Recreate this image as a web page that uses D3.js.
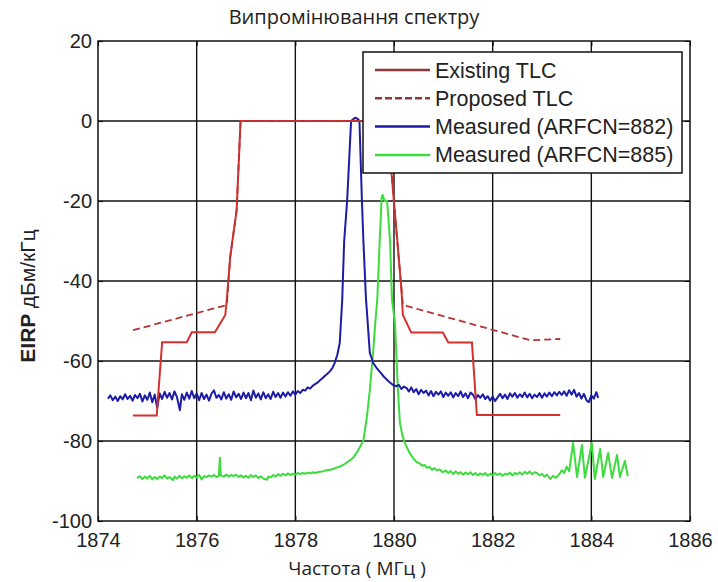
<!DOCTYPE html>
<html>
<head>
  <meta charset="utf-8">
  <style>
body { margin: 0; background: #fff; }
svg { font-family: "Liberation Sans", Arial, sans-serif; }
.tick text { font-size: 20px; fill: #222; }
  </style>
</head>
<body>
  <svg id="chart" width="718" height="582"></svg>
  <script src="https://cdn.jsdelivr.net/npm/d3@7"></script>
  <script>
// Tick labels
var xTicks = [1874, 1876, 1878, 1880, 1882, 1884, 1886];
var yTicks = [20, 0, -20, -40, -60, -80, -100];

var seriesNames = ["Existing TLC", "Proposed TLC", "Measured (ARFCN=882)", "Measured (ARFCN=885)"];

// Existing TLC mask [MHz, dBm/kHz]
var existingTLC = [
  [1874.71, -73.6], [1875.19, -73.6], [1875.30, -55.3], [1875.80, -55.3],
  [1875.90, -52.8], [1876.37, -52.8], [1876.58, -48.5], [1876.61, -44.8],
  [1876.68, -34], [1876.81, -22.3], [1876.89, 0], [1879.86, 0],
  [1880.15, -42], [1880.18, -48.5], [1880.35, -52.9], [1880.99, -52.9],
  [1881.10, -55.4], [1881.58, -55.4], [1881.68, -73.5], [1883.37, -73.5]
];

// Proposed TLC mask
var proposedTLC = [
  [1874.71, -52.3], [1876.61, -46], [1876.68, -34], [1876.81, -22.3],
  [1876.89, 0], [1879.86, 0], [1880.15, -42], [1880.18, -46],
  [1882.76, -54.8], [1883.37, -54.5]
];

// Measured, ARFCN=882
var measured882 = [
  [1874.20, -69.4], [1874.25, -68.6], [1874.30, -69.8], [1874.35, -68.9], [1874.40, -70.0],
  [1874.45, -68.8], [1874.50, -69.6], [1874.55, -68.3], [1874.60, -69.5], [1874.65, -68.7],
  [1874.70, -69.9], [1874.75, -68.5], [1874.80, -69.3], [1874.85, -68.2], [1874.90, -70.1],
  [1874.95, -68.6], [1875.00, -69.7], [1875.05, -67.9], [1875.10, -70.3], [1875.15, -68.4],
  [1875.20, -71.7], [1875.25, -68.1], [1875.30, -69.5], [1875.35, -67.7], [1875.40, -69.2],
  [1875.45, -68.0], [1875.50, -69.6], [1875.55, -67.6], [1875.60, -69.0], [1875.66, -72.3],
  [1875.70, -68.3], [1875.75, -69.7], [1875.80, -67.9], [1875.85, -69.4], [1875.90, -67.5],
  [1875.95, -69.3], [1876.00, -68.1], [1876.05, -69.8], [1876.10, -68.0], [1876.15, -69.5],
  [1876.20, -68.4], [1876.25, -69.9], [1876.30, -68.2], [1876.35, -67.3], [1876.40, -69.2],
  [1876.45, -68.5], [1876.50, -69.6], [1876.55, -67.8], [1876.60, -69.4], [1876.65, -68.3],
  [1876.70, -69.7], [1876.75, -67.6], [1876.80, -69.1], [1876.85, -68.2], [1876.90, -69.5],
  [1876.95, -67.9], [1877.00, -69.3], [1877.05, -68.0], [1877.10, -69.8], [1877.15, -67.4],
  [1877.20, -69.2], [1877.25, -68.1], [1877.30, -69.6], [1877.35, -67.8], [1877.40, -69.3],
  [1877.45, -68.3], [1877.50, -69.5], [1877.55, -67.7], [1877.60, -69.0], [1877.65, -68.0],
  [1877.70, -69.2], [1877.75, -67.9], [1877.80, -68.9], [1877.85, -67.8], [1877.90, -68.7],
  [1877.95, -67.6], [1878.00, -68.4], [1878.05, -67.5], [1878.10, -68.0], [1878.15, -67.2],
  [1878.20, -67.4], [1878.25, -66.6], [1878.30, -66.9], [1878.35, -66.2], [1878.40, -65.8],
  [1878.45, -65.4], [1878.50, -64.8], [1878.55, -64.3], [1878.60, -63.7], [1878.65, -63.2],
  [1878.70, -62.6], [1878.75, -61.8], [1878.80, -60.4], [1878.85, -58.5], [1878.90, -55.5],
  [1878.95, -44.8], [1878.99, -30], [1879.05, -20], [1879.13, 0], [1879.21, 0.8],
  [1879.27, 0.5], [1879.30, 0], [1879.35, -20], [1879.38, -30], [1879.43, -44],
  [1879.51, -58], [1879.58, -60.5], [1879.65, -61.8], [1879.72, -62.8], [1879.80, -64.0],
  [1879.90, -65.2], [1879.98, -66.0], [1880.05, -66.3], [1880.10, -66.0], [1880.15, -67.0],
  [1880.20, -66.4], [1880.26, -66.8], [1880.30, -67.6], [1880.35, -66.6], [1880.40, -67.8],
  [1880.45, -67.0], [1880.50, -68.3], [1880.55, -67.2], [1880.60, -68.0], [1880.65, -67.4],
  [1880.70, -68.6], [1880.75, -67.5], [1880.80, -68.8], [1880.85, -67.7], [1880.90, -68.4],
  [1880.95, -67.6], [1881.00, -69.0], [1881.05, -67.9], [1881.10, -68.7], [1881.15, -67.8],
  [1881.20, -69.1], [1881.25, -68.0], [1881.30, -68.8], [1881.35, -67.6], [1881.40, -69.0],
  [1881.45, -68.1], [1881.50, -69.3], [1881.55, -67.9], [1881.60, -68.4], [1881.65, -69.6],
  [1881.70, -68.5], [1881.75, -69.2], [1881.80, -68.3], [1881.85, -69.5], [1881.90, -68.8],
  [1881.95, -69.9], [1882.00, -68.9], [1882.05, -70.0], [1882.10, -69.1], [1882.15, -68.2],
  [1882.20, -69.3], [1882.25, -68.4], [1882.30, -69.5], [1882.35, -68.1], [1882.40, -68.9],
  [1882.45, -68.0], [1882.50, -69.2], [1882.55, -68.3], [1882.60, -69.0], [1882.65, -67.9],
  [1882.70, -69.1], [1882.75, -68.2], [1882.80, -69.3], [1882.85, -68.4], [1882.90, -69.0],
  [1882.95, -68.0], [1883.00, -69.2], [1883.05, -68.1], [1883.10, -68.9], [1883.15, -67.9],
  [1883.20, -68.8], [1883.25, -67.8], [1883.30, -68.6], [1883.35, -67.7], [1883.40, -68.5],
  [1883.45, -67.6], [1883.50, -68.7], [1883.55, -67.3], [1883.60, -68.4], [1883.65, -67.2],
  [1883.70, -68.9], [1883.75, -68.0], [1883.80, -69.4], [1883.85, -68.2], [1883.90, -69.8],
  [1883.95, -70.3], [1884.00, -68.6], [1884.05, -69.4], [1884.10, -67.8], [1884.14, -69.2]
];

// Measured, ARFCN=885
var measured885 = [
  [1874.79, -89.3], [1874.85, -88.8], [1874.90, -89.5], [1874.95, -88.9], [1875.00, -89.4],
  [1875.05, -88.7], [1875.10, -89.6], [1875.15, -89.0], [1875.20, -89.5], [1875.25, -88.9],
  [1875.30, -89.3], [1875.35, -88.6], [1875.40, -89.4], [1875.45, -89.0], [1875.52, -89.8],
  [1875.55, -88.9], [1875.60, -89.4], [1875.65, -88.7], [1875.70, -89.3], [1875.75, -88.8],
  [1875.80, -89.2], [1875.85, -88.6], [1875.90, -89.3], [1875.95, -88.7], [1876.00, -89.1],
  [1876.05, -88.5], [1876.10, -89.6], [1876.15, -88.8], [1876.20, -89.0], [1876.25, -88.6],
  [1876.30, -88.9], [1876.35, -88.5], [1876.40, -89.0], [1876.45, -88.7], [1876.47, -84.2],
  [1876.49, -88.6], [1876.55, -88.9], [1876.60, -88.4], [1876.65, -88.9], [1876.70, -88.5],
  [1876.75, -88.8], [1876.80, -88.4], [1876.85, -89.0], [1876.90, -88.6], [1876.95, -89.1],
  [1877.00, -88.7], [1877.05, -89.2], [1877.10, -88.5], [1877.15, -89.0], [1877.20, -88.6],
  [1877.25, -89.3], [1877.30, -88.8], [1877.35, -89.4], [1877.43, -89.7], [1877.45, -88.9],
  [1877.50, -89.1], [1877.55, -88.5], [1877.60, -88.9], [1877.65, -88.3], [1877.70, -88.7],
  [1877.75, -88.2], [1877.80, -88.6], [1877.85, -88.1], [1877.90, -88.5], [1877.95, -88.2],
  [1878.00, -88.4], [1878.05, -88.0], [1878.10, -88.3], [1878.15, -88.0], [1878.20, -88.2],
  [1878.25, -87.9], [1878.30, -88.1], [1878.35, -87.8], [1878.40, -88.0], [1878.45, -87.8],
  [1878.50, -87.7], [1878.55, -87.6], [1878.60, -87.4], [1878.65, -87.3], [1878.70, -87.2],
  [1878.77, -87.0], [1878.85, -86.6], [1878.92, -86.3], [1878.97, -86.0], [1879.05, -85.3],
  [1879.11, -84.8], [1879.17, -84.2], [1879.25, -82.8], [1879.31, -81.5], [1879.38, -79.8],
  [1879.45, -74], [1879.51, -67.3], [1879.58, -57.3], [1879.62, -50.5], [1879.66, -44.8],
  [1879.71, -30], [1879.75, -19], [1879.77, -18.5], [1879.81, -20], [1879.86, -20],
  [1879.92, -30], [1879.96, -44.8], [1880.02, -50.5], [1880.08, -67.3], [1880.12, -75.5],
  [1880.17, -78.6], [1880.22, -80.5], [1880.30, -82.6], [1880.38, -84.2], [1880.46, -85.3],
  [1880.52, -85.6], [1880.57, -86.2], [1880.62, -86.0], [1880.67, -86.7], [1880.72, -86.5],
  [1880.77, -87.2], [1880.82, -86.8], [1880.87, -87.4], [1880.92, -87.1], [1880.99, -87.8],
  [1881.05, -87.4], [1881.10, -88.0], [1881.15, -87.5], [1881.20, -88.3], [1881.25, -87.6],
  [1881.30, -88.2], [1881.35, -87.8], [1881.40, -88.4], [1881.45, -87.9], [1881.50, -88.3],
  [1881.55, -87.8], [1881.60, -88.5], [1881.65, -88.0], [1881.70, -88.6], [1881.75, -88.1],
  [1881.80, -88.5], [1881.85, -88.0], [1881.90, -88.7], [1881.95, -88.2], [1882.00, -88.6],
  [1882.05, -88.0], [1882.10, -88.5], [1882.15, -88.1], [1882.20, -88.7], [1882.25, -88.2],
  [1882.30, -88.4], [1882.35, -87.9], [1882.40, -88.6], [1882.45, -88.0], [1882.50, -88.3],
  [1882.55, -87.8], [1882.60, -88.4], [1882.65, -87.7], [1882.70, -88.2], [1882.75, -87.6],
  [1882.80, -88.3], [1882.85, -87.8], [1882.90, -88.0], [1882.95, -88.6], [1883.00, -88.2],
  [1883.05, -88.9], [1883.10, -88.4], [1883.17, -89.5], [1883.22, -88.7], [1883.27, -89.2],
  [1883.30, -89.0], [1883.35, -88.3], [1883.40, -87.3], [1883.45, -88.0], [1883.50, -86.4],
  [1883.55, -87.6], [1883.63, -80.5], [1883.71, -89.0], [1883.81, -81.0], [1883.87, -89.2],
  [1884.01, -80.5], [1884.07, -89.5], [1884.18, -82.0], [1884.24, -89.0], [1884.34, -83.0],
  [1884.42, -89.2], [1884.52, -83.5], [1884.58, -89.0], [1884.68, -85.0], [1884.74, -88.8]
];

var svg = d3.select("#chart"),
    margin = {top: 41, right: 28, bottom: 61, left: 98},
    width = +svg.attr("width") - margin.left - margin.right,
    height = +svg.attr("height") - margin.top - margin.bottom;

var x = d3.scaleLinear().domain([1874, 1886]).range([0, width]);
var y = d3.scaleLinear().domain([-100, 20]).range([height, 0]);

// plain hyphen for negative labels, like the original
var plain = function(d) { return String(d); };

var g = svg.append("g")
    .attr("transform", "translate(" + margin.left + "," + margin.top + ")");

// Grid
g.append("g")
  .selectAll("line")
  .data(xTicks.slice(1, -1))
  .enter().append("line")
    .attr("x1", function(d) { return x(d); })
    .attr("x2", function(d) { return x(d); })
    .attr("y1", 0)
    .attr("y2", height)
    .attr("stroke", "#111")
    .attr("stroke-width", 1.4);

g.append("g")
  .selectAll("line")
  .data(yTicks.slice(1, -1))
  .enter().append("line")
    .attr("x1", 0)
    .attr("x2", width)
    .attr("y1", function(d) { return y(d); })
    .attr("y2", function(d) { return y(d); })
    .attr("stroke", "#111")
    .attr("stroke-width", 1.4);

// Axes
var xAxis = g.append("g")
    .attr("class", "x axis")
    .attr("transform", "translate(0," + height + ")")
    .call(d3.axisBottom(x).tickValues(xTicks).tickFormat(plain).tickSize(-5).tickPadding(12));

var yAxis = g.append("g")
    .attr("class", "y axis")
    .call(d3.axisLeft(y).tickValues(yTicks).tickFormat(plain).tickSize(-5).tickPadding(6));

[xAxis, yAxis].forEach(function(a) {
  a.select(".domain").remove();
  a.selectAll(".tick line").attr("stroke", "#111").attr("stroke-width", 1.2);
});

// Top / right ticks
g.append("g")
  .call(d3.axisTop(x).tickValues(xTicks).tickSize(-5).tickFormat(""))
  .call(function(a) { a.select(".domain").remove(); });
g.append("g")
  .attr("transform", "translate(" + width + ",0)")
  .call(d3.axisRight(y).tickValues(yTicks).tickSize(-5).tickFormat(""))
  .call(function(a) { a.select(".domain").remove(); });

// Lines
var line = d3.line()
    .x(function(d) { return x(d[0]); })
    .y(function(d) { return y(d[1]); });

var plot = g.append("g");

plot.append("path")
    .datum(measured885)
    .attr("fill", "none")
    .attr("stroke", "#3ddc3d")
    .attr("stroke-width", 2)
    .attr("stroke-linejoin", "round")
    .attr("d", line);

plot.append("path")
    .datum(measured882)
    .attr("fill", "none")
    .attr("stroke", "#1c1ca8")
    .attr("stroke-width", 2)
    .attr("stroke-linejoin", "round")
    .attr("d", line);

plot.append("path")
    .datum(existingTLC)
    .attr("fill", "none")
    .attr("stroke", "#d4302e")
    .attr("stroke-width", 2)
    .attr("d", line);

plot.append("path")
    .datum(proposedTLC)
    .attr("fill", "none")
    .attr("stroke", "#b83434")
    .attr("stroke-width", 1.8)
    .attr("stroke-dasharray", "7,4")
    .attr("d", line);

// Plot box
g.append("rect")
    .attr("width", width)
    .attr("height", height)
    .attr("fill", "none")
    .attr("stroke", "#111")
    .attr("stroke-width", 1.5);

// Legend
var legendColors = ["#8e3a3a", "#8e3a3a", "#1c1ca8", "#3ddc3d"];
var legend = svg.append("g").attr("transform", "translate(363,52)");
legend.append("rect")
    .attr("width", 319)
    .attr("height", 121)
    .attr("fill", "#fff")
    .attr("stroke", "#111")
    .attr("stroke-width", 1.5);

var item = legend.selectAll(".item")
  .data(seriesNames)
  .enter().append("g")
    .attr("transform", function(d, i) { return "translate(0," + (18 + i * 28.3) + ")"; });

item.append("line")
    .attr("x1", 12)
    .attr("x2", 67)
    .attr("stroke", function(d, i) { return legendColors[i]; })
    .attr("stroke-width", 2.5)
    .attr("stroke-dasharray", function(d, i) { return i == 1 ? "7,3" : null; });

item.append("text")
    .attr("x", 72)
    .attr("dy", "0.35em")
    .attr("font-size", 21.5)
    .attr("fill", "#222")
    .text(function(d) { return d; });

// Titles
svg.append("text")
    .attr("x", 354)
    .attr("y", 24)
    .attr("text-anchor", "middle")
    .attr("font-family", "'Open Sans', 'Noto Sans', sans-serif")
    .attr("font-size", 20)
    .attr("fill", "#222")
    .text("Випромінювання спектру");

svg.append("text")
    .attr("x", 357)
    .attr("y", 575)
    .attr("text-anchor", "middle")
    .attr("font-family", "'Open Sans', 'Noto Sans', sans-serif")
    .attr("font-size", 19)
    .attr("fill", "#222")
    .text("Частота ( МГц )");

var ylab = svg.append("text")
    .attr("transform", "translate(35,296) rotate(-90)")
    .attr("text-anchor", "middle")
    .attr("font-size", 21)
    .attr("fill", "#222");
ylab.append("tspan").attr("font-weight", "bold").text("EIRP ");
ylab.append("tspan").text("дБм/кГц");
  </script>
</body>
</html>
